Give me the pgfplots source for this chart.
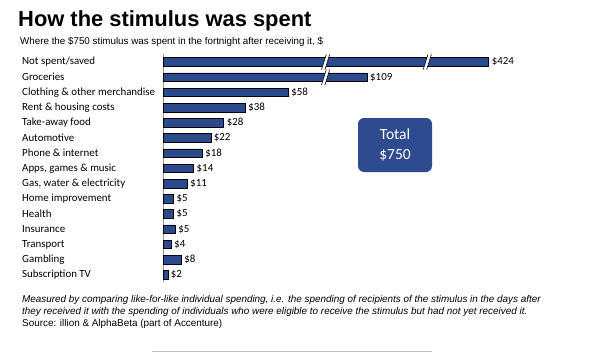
\documentclass[border=0pt]{standalone}
\usepackage{pgfplots}
\pgfplotsset{compat=1.18}
\usepackage{fontspec}
\setmainfont{Liberation Sans}
\newfontfamily\carlito{Carlito}
\definecolor{barblue}{HTML}{2B4A8E}
\definecolor{boxblue}{HTML}{2F4B8F}
\begin{document}
\begin{tikzpicture}
\path[use as bounding box] (0,0) rectangle (590bp,-353bp);
\node[anchor=base west, inner sep=0, font=\fontsize{21.9bp}{24bp}\selectfont\bfseries] at (18bp,-26.7bp) {How the stimulus was spent};
\node[anchor=base west, inner sep=0, font=\fontsize{9.8bp}{11bp}\selectfont] at (20bp,-44.8bp) {Where the \$750 stimulus was spent in the fortnight after receiving it, \$};
\begin{axis}[
  at={(163.5bp,-54.4bp)}, anchor=north west,
  scale only axis, width=430bp, height=228bp,
  xmin=0, xmax=200, ymin=-0.5, ymax=14.5, y dir=reverse,
  axis x line=none, axis y line*=left,
  axis line style={draw=gray!80, line width=0.8bp, -},
  ytick={0,...,14},
  yticklabels={Not spent/saved, Groceries, Clothing \& other merchandise, Rent \& housing costs, Take-away food, Automotive, Phone \& internet, {Apps, games \& music}, {Gas, water \& electricity}, Home improvement, Health, Insurance, Transport, Gambling, Subscription TV},
  major tick length=0,
  yticklabel style={anchor=west, inner sep=0, xshift=-141.5bp, font=\carlito\fontsize{10.9bp}{12bp}\selectfont},
  clip=false,
]
\addplot[xbar, fill=barblue, draw=black, line width=0.6bp, bar width=8.5bp,
  point meta=explicit symbolic,
  nodes near coords={\$\pgfplotspointmeta},
  nodes near coords style={anchor=west, inner sep=2.8bp, font=\carlito\fontsize{10.9bp}{12bp}\selectfont}]
  table[x=v, y=i, meta=l] {
i v l
0 151.3 424
1 94.7 109
2 58 58
3 38 38
4 28 28
5 22 22
6 18 18
7 14 14
8 11 11
9 4.7 5
10 4.7 5
11 5.5 5
12 3.6 4
13 8.3 8
14 2 2
};
% axis breaks
\fill[white] (axis cs:73.5,0.5) -- (axis cs:75.1,0.5) -- (axis cs:77.3,-0.5) -- (axis cs:75.7,-0.5) -- cycle;
\draw[black, line width=0.6bp] (axis cs:73.5,0.5) -- (axis cs:75.7,-0.5);
\draw[black, line width=0.6bp] (axis cs:75.1,0.5) -- (axis cs:77.3,-0.5);
\fill[white] (axis cs:120.8,0.5) -- (axis cs:122.4,0.5) -- (axis cs:124.6,-0.5) -- (axis cs:123,-0.5) -- cycle;
\draw[black, line width=0.6bp] (axis cs:120.8,0.5) -- (axis cs:123,-0.5);
\draw[black, line width=0.6bp] (axis cs:122.4,0.5) -- (axis cs:124.6,-0.5);
\fill[white] (axis cs:73.5,1.5) -- (axis cs:75.1,1.5) -- (axis cs:77.3,0.5) -- (axis cs:75.7,0.5) -- cycle;
\draw[black, line width=0.6bp] (axis cs:73.5,1.5) -- (axis cs:75.7,0.5);
\draw[black, line width=0.6bp] (axis cs:75.1,1.5) -- (axis cs:77.3,0.5);
\end{axis}
\node[fill=boxblue, rounded corners=6bp, minimum width=74bp, minimum height=54bp, text=white, align=center, font=\carlito\fontsize{15.5bp}{19.5bp}\selectfont, inner sep=0] at (395bp,-145bp) {Total\\\$750};
\node[anchor=base west, inner sep=0, font=\fontsize{9.9bp}{11bp}\selectfont\itshape] at (22bp,-302.5bp) {Measured by comparing like-for-like individual spending, i.e. the spending of recipients of the stimulus in the days after};
\node[anchor=base west, inner sep=0, font=\fontsize{9.9bp}{11bp}\selectfont\itshape] at (22bp,-314.5bp) {they received it with the spending of individuals who were eligible to receive the stimulus but had not yet received it.};
\node[anchor=base west, inner sep=0, font=\fontsize{9.9bp}{11bp}\selectfont] at (22bp,-326.5bp) {Source: illion \& AlphaBeta (part of Accenture)};
\draw[gray!50, line width=0.8bp] (152bp,-351bp) -- (432bp,-351bp);
\end{tikzpicture}
\end{document}
